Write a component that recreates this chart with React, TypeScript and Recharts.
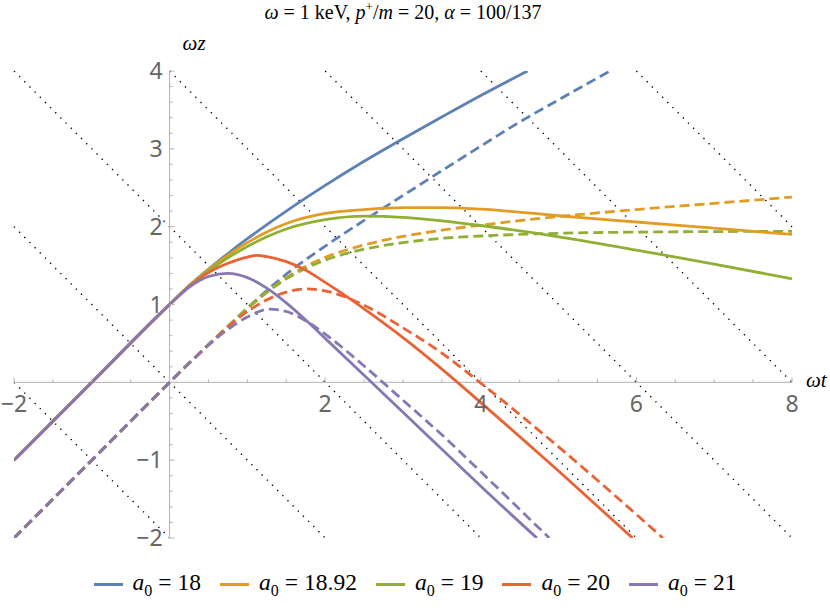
import React from 'react';
import { LineChart, Line, XAxis, YAxis, ReferenceLine, ReferenceDot } from 'recharts';

// ---------- data ----------
const a0Labels = ['18', '18.92', '19', '20', '21'];
const colors = ['#5E81B5', '#E19C24', '#8FB032', '#EB6235', '#8778B3'];

// solid curves [t, z]
const solid18 = [[-2, -1], [-1, 0], [0, 1], [0.25, 1.24], [0.5, 1.455], [0.75, 1.655], [1.0, 1.845], [1.5, 2.2], [2.0, 2.53], [2.5, 2.84], [3.0, 3.13], [3.5, 3.41], [4.0, 3.685], [4.6, 4.0]];
const solid1892 = [[-2, -1], [-1, 0], [0, 1], [0.25, 1.24], [0.5, 1.45], [0.75, 1.635], [1.0, 1.795], [1.25, 1.93], [1.5, 2.04], [2.0, 2.17], [2.5, 2.22], [3.0, 2.245], [3.5, 2.245], [4.0, 2.225], [5.0, 2.14], [6.0, 2.06], [7.0, 1.98], [8.0, 1.9]];
const solid19 = [[-2, -1], [-1, 0], [0, 1], [0.25, 1.24], [0.5, 1.43], [0.75, 1.6], [1.0, 1.745], [1.25, 1.87], [1.5, 1.97], [2.0, 2.09], [2.5, 2.135], [3.0, 2.12], [3.5, 2.075], [4.0, 2.015], [5.0, 1.87], [6.0, 1.7], [7.0, 1.52], [8.0, 1.33]];
const solid20 = [[-2, -1], [-1, 0], [0, 1], [0.25, 1.23], [0.5, 1.41], [0.75, 1.53], [1.0, 1.61], [1.12, 1.63], [1.25, 1.615], [1.5, 1.55], [1.75, 1.44], [2.0, 1.285], [2.25, 1.12], [2.5, 0.945], [3.0, 0.575], [3.5, 0.17], [4.0, -0.26], [5.0, -1.14], [5.95, -2]];
const solid21 = [[-2, -1], [-1, 0], [0, 1], [0.25, 1.22], [0.5, 1.36], [0.75, 1.4], [1.0, 1.345], [1.25, 1.21], [1.5, 1.02], [1.75, 0.8], [2.0, 0.565], [2.5, 0.09], [3.0, -0.385], [3.5, -0.86], [4.0, -1.335], [4.72, -2]];

// dashed curves [t, z]
const dashed18 = [[-2, -2], [-1, -1], [0, 0], [0.25, 0.245], [0.5, 0.485], [0.75, 0.72], [1.0, 0.955], [1.25, 1.18], [1.5, 1.39], [2.0, 1.75], [2.5, 2.08], [3.0, 2.4], [3.5, 2.72], [4.0, 3.035], [4.5, 3.345], [5.0, 3.63], [5.66, 4.0]];
const dashed1892 = [[-2, -2], [-1, -1], [0, 0], [0.25, 0.245], [0.5, 0.485], [0.75, 0.72], [1.0, 0.95], [1.25, 1.16], [1.5, 1.345], [1.75, 1.49], [2.0, 1.605], [2.5, 1.765], [3.0, 1.875], [3.5, 1.955], [4.0, 2.02], [5.0, 2.13], [6.0, 2.22], [7.0, 2.3], [8.0, 2.38]];
const dashed19 = [[-2, -2], [-1, -1], [0, 0], [0.25, 0.245], [0.5, 0.485], [0.75, 0.72], [1.0, 0.95], [1.25, 1.155], [1.5, 1.33], [1.75, 1.465], [2.0, 1.57], [2.5, 1.71], [3.0, 1.795], [3.5, 1.85], [4.0, 1.88], [5.0, 1.915], [6.0, 1.93], [7.0, 1.937], [8.0, 1.94]];
const dashed20 = [[-2, -2], [-1, -1], [0, 0], [0.25, 0.245], [0.5, 0.48], [0.75, 0.71], [1.0, 0.91], [1.25, 1.06], [1.5, 1.16], [1.76, 1.2], [2.0, 1.175], [2.25, 1.1], [2.5, 0.99], [3.0, 0.7], [3.5, 0.375], [4.0, -0.01], [5.0, -0.83], [6.34, -2]];
const dashed21 = [[-2, -2], [-1, -1], [0, 0], [0.25, 0.245], [0.5, 0.48], [0.75, 0.68], [1.0, 0.84], [1.285, 0.94], [1.5, 0.91], [1.75, 0.79], [2.0, 0.62], [2.5, 0.21], [3.0, -0.23], [3.56, -0.73], [4.0, -1.15], [4.88, -2]];

const solidSeries = [solid18, solid1892, solid19, solid20, solid21];
const dashedSeries = [dashed18, dashed1892, dashed19, dashed20, dashed21];

// light-cone lines t + z = c
const coneConstants = [-2, 0, 2, 4, 6, 8, 10];

// axes
const xDomain = [-2, 8];
const yDomain = [-2, 4];
const xMajorTicks = [-2, 2, 4, 6, 8];
const xMinorTicks = [-1.5, -1, -0.5, 0.5, 1, 1.5, 2.5, 3, 3.5, 4.5, 5, 5.5, 6.5, 7, 7.5];
const yMajorTicks = [-2, -1, 1, 2, 3, 4];
const yMinorTicks = [-1.8, -1.6, -1.4, -1.2, -0.8, -0.6, -0.4, -0.2, 0.2, 0.4, 0.6, 0.8, 1.2, 1.4, 1.6, 1.8, 2.2, 2.4, 2.6, 2.8, 3.2, 3.4, 3.6, 3.8];

// ---------- styles ----------
const W = 830;
const H = 611;
const AXIS = '#b3b3b3';
const TICK_TEXT = '#666666';
const TICK_FONT = '"Noto Sans", "Open Sans", sans-serif';
const SERIF = '"Liberation Serif", "DejaVu Serif", serif';
const LW = 2.8;

const toPts = (arr: number[][]) => arr.map(([t, z]) => ({ t, z }));
const fmt = (v: number) => (v < 0 ? '\u2212' + Math.abs(v) : String(v));

const xTickShape = (v: number, major: boolean) => (p: any) => (
  <g>
    <line x1={p.cx} x2={p.cx} y1={p.cy} y2={p.cy - (major ? 5 : 3)} stroke={AXIS} strokeWidth={1} />
    {major ? (
      <text x={p.cx} y={p.cy + 30} textAnchor="middle" fontFamily={TICK_FONT} fontSize={23} fill={TICK_TEXT}>
        {fmt(v)}
      </text>
    ) : null}
  </g>
);

const yTickShape = (v: number, major: boolean) => (p: any) => (
  <g>
    <line x1={p.cx} x2={p.cx + (major ? 5 : 3)} y1={p.cy} y2={p.cy} stroke={AXIS} strokeWidth={1} />
    {major ? (
      <text x={p.cx - 7} y={p.cy + 8} textAnchor="end" fontFamily={TICK_FONT} fontSize={23} fill={TICK_TEXT}>
        {fmt(v)}
      </text>
    ) : null}
  </g>
);

const yAxisLabel = (p: any) => (
  <text x={p.cx + 13} y={p.cy - 21} fontFamily={SERIF} fontSize={21} fontStyle="italic" fill="#000">
    ωz
  </text>
);
const xAxisLabel = (p: any) => (
  <text x={p.cx + 14} y={p.cy + 5} fontFamily={SERIF} fontSize={21} fontStyle="italic" fill="#000">
    ωt
  </text>
);

export default function App() {
  return (
    <div style={{ position: 'absolute', left: 0, top: 0, width: W, height: H, background: '#fff' }}>
      <div
        style={{
          position: 'absolute',
          left: 14,
          width: 778,
          top: -1,
          textAlign: 'center',
          fontFamily: SERIF,
          fontSize: 20,
          color: '#000',
          whiteSpace: 'nowrap',
        }}
      >
        <i>ω</i> = 1 keV, <i>p</i>
        <sup style={{ fontSize: 13 }}>+</sup>/<i>m</i> = 20, <i>α</i> = 100/137
      </div>
      <LineChart width={W} height={H} margin={{ top: 71, right: 38, bottom: 73, left: 14 }}>
        <XAxis type="number" dataKey="t" domain={xDomain} allowDataOverflow hide />
        <YAxis type="number" dataKey="z" domain={yDomain} allowDataOverflow hide />
        {coneConstants.map((c) => {
          const t0 = Math.max(xDomain[0], c - yDomain[1]);
          const t1 = Math.min(xDomain[1], c - yDomain[0]);
          return (
            <ReferenceLine
              key={'c' + c}
              segment={[
                { x: t0, y: c - t0 },
                { x: t1, y: c - t1 },
              ]}
              stroke="#000"
              strokeWidth={1.4}
              strokeDasharray="1.3 6"
              ifOverflow="visible"
            />
          );
        })}
        <ReferenceLine y={0} stroke={AXIS} strokeWidth={1} />
        <ReferenceLine x={0} stroke={AXIS} strokeWidth={1} />
        {xMinorTicks.map((v) => (
          <ReferenceDot key={'xm' + v} x={v} y={0} ifOverflow="visible" shape={xTickShape(v, false)} />
        ))}
        {xMajorTicks.map((v) => (
          <ReferenceDot key={'xM' + v} x={v} y={0} ifOverflow="visible" shape={xTickShape(v, true)} />
        ))}
        {yMinorTicks.map((v) => (
          <ReferenceDot key={'ym' + v} x={0} y={v} ifOverflow="visible" shape={yTickShape(v, false)} />
        ))}
        {yMajorTicks.map((v) => (
          <ReferenceDot key={'yM' + v} x={0} y={v} ifOverflow="visible" shape={yTickShape(v, true)} />
        ))}
        <ReferenceDot x={0} y={yDomain[1]} ifOverflow="visible" shape={yAxisLabel} />
        <ReferenceDot x={xDomain[1]} y={0} ifOverflow="visible" shape={xAxisLabel} />
        {dashedSeries.map((s, i) => (
          <Line
            key={'d' + i}
            data={toPts(s)}
            dataKey="z"
            type="monotone"
            stroke={colors[i]}
            strokeWidth={LW}
            strokeDasharray="10 5"
            dot={false}
            activeDot={false}
            isAnimationActive={false}
          />
        ))}
        {solidSeries.map((s, i) => (
          <Line
            key={'s' + i}
            data={toPts(s)}
            dataKey="z"
            type="monotone"
            stroke={colors[i]}
            strokeWidth={LW}
            dot={false}
            activeDot={false}
            isAnimationActive={false}
          />
        ))}
      </LineChart>
      <div
        style={{
          position: 'absolute',
          left: 0,
          width: W,
          top: 569,
          display: 'flex',
          justifyContent: 'center',
          fontFamily: SERIF,
          fontSize: 23.5,
          color: '#000',
        }}
      >
        {a0Labels.map((lab, i) => (
          <div key={lab} style={{ display: 'flex', alignItems: 'center', marginRight: i < a0Labels.length - 1 ? 19 : 0 }}>
            <div style={{ width: 29, height: 3, background: colors[i], marginRight: 10 }} />
            <span style={{ whiteSpace: 'nowrap' }}>
              <i>a</i>
              <sub style={{ fontSize: 16 }}>0</sub>
              <span style={{ margin: '0 6px' }}>=</span>
              {lab}
            </span>
          </div>
        ))}
      </div>
    </div>
  );
}
